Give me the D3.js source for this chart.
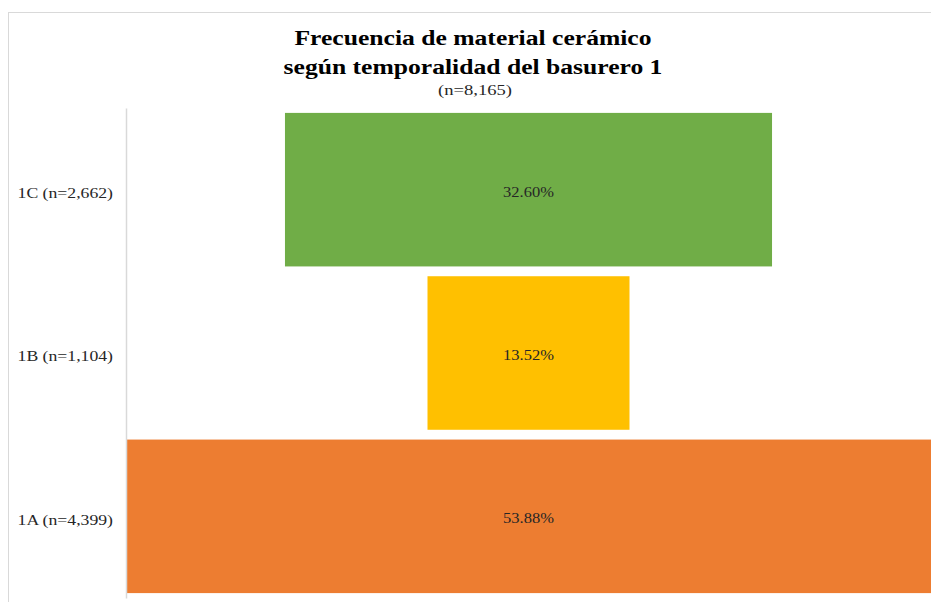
<!DOCTYPE html>
<html><head><meta charset="utf-8">
<script src="https://cdn.jsdelivr.net/npm/d3@7/dist/d3.min.js"></script>
<style>body{margin:0;background:#fff;overflow:hidden}svg{display:block}</style>
</head><body>
<svg id="c" width="931" height="602"></svg>
<script>
const categories = ["1C (n=2,662)", "1B (n=1,104)", "1A (n=4,399)"];
const values = [32.60, 13.52, 53.88];
const valueLabels = ["32.60%", "13.52%", "53.88%"];
const colors = ["#70AD47", "#FFC000", "#ED7D31"];
const titleLines = ["Frecuencia de material cerámico", "según temporalidad del basurero 1"];
const subtitle = "(n=8,165)";

const svg = d3.select("#c");
const serif = "'Liberation Serif','Times New Roman',serif";

// frame
svg.append("rect").attr("x", 8.5).attr("y", 12.5).attr("width", 940).attr("height", 600)
  .attr("fill", "none").attr("stroke", "#d9d9d9").attr("stroke-width", 1);

const pLeft = 126, pRight = 931, pTop = 108, pBottom = 598;
const center = (pLeft + pRight) / 2;
const y = d3.scaleBand().domain(categories).range([pTop, pBottom]).paddingInner(0.06).paddingOuter(0.03);
const w = d3.scaleLinear().domain([0, d3.max(values)]).range([0, pRight - pLeft]);

svg.selectAll("rect.bar").data(values).enter().append("rect").attr("class", "bar")
  .attr("x", d => center - w(d) / 2)
  .attr("y", (d, i) => y(categories[i]))
  .attr("width", d => w(d))
  .attr("height", y.bandwidth())
  .attr("fill", (d, i) => colors[i]);

function stretched(parent, x, yy, sx, anchor) {
  return parent.append("text")
    .attr("transform", `translate(${x},${yy}) scale(${sx},1)`)
    .attr("text-anchor", anchor);
}

values.forEach((d, i) => {
  stretched(svg, center, y(categories[i]) + y.bandwidth() / 2 + 2, 1.18, "middle")
    .attr("dy", "0.35em")
    .attr("font-family", serif).attr("font-size", 14).attr("fill", "#262626")
    .text(valueLabels[i]);
});

// axis
const ax = svg.append("g").attr("transform", `translate(${pLeft},0)`)
  .call(d3.axisLeft(y).tickSize(0).tickPadding(13));
ax.select(".domain").attr("stroke", "#d9d9d9").attr("stroke-width", 1.5);
ax.selectAll(".tick text")
  .attr("x", 0).attr("dy", "0.35em")
  .attr("transform", "translate(-13,3) scale(1.18,1)")
  .attr("font-family", serif).attr("font-size", 15).attr("fill", "#262626");

// title
titleLines.forEach((t, i) => {
  stretched(svg, 473, 45 + i * 29, 1.22, "middle")
    .attr("font-family", serif)
    .attr("font-weight", "bold").attr("font-size", 21).attr("fill", "#000").text(t);
});
stretched(svg, 475, 95, 1.2, "middle")
  .attr("font-family", serif).attr("font-size", 15.5).attr("fill", "#262626").text(subtitle);
</script>
</body></html>
